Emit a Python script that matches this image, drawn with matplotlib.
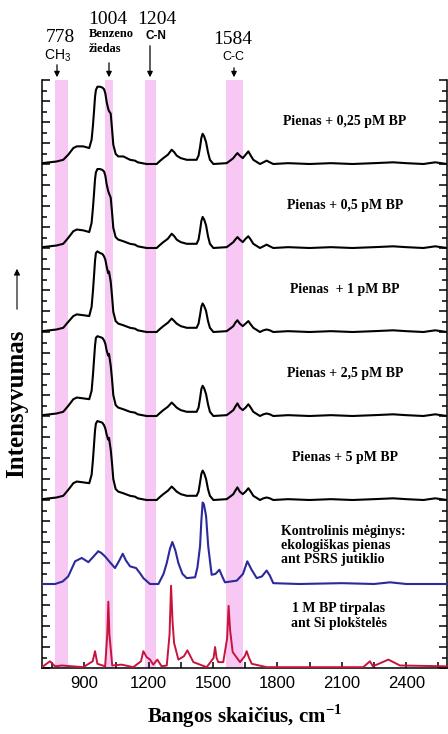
import numpy as np
import matplotlib.pyplot as plt
from matplotlib.ticker import MultipleLocator

# wavenumbers (cm-1) shared by the five milk + BP spectra
wn_milk = [704, 740, 772, 803, 826, 850, 866, 896, 924, 935, 941, 946, 951, 955, 962, 974, 985,
           993, 999, 1005, 1012, 1016, 1024, 1030, 1036, 1047, 1059, 1083, 1114, 1137, 1150,
           1191, 1238, 1255, 1269, 1290, 1308, 1320, 1331, 1350, 1378, 1424, 1433, 1440, 1446,
           1452, 1459, 1468, 1477, 1486, 1502, 1564, 1580, 1595, 1604, 1614, 1625, 1639, 1652,
           1665, 1676, 1688, 1719, 1735, 1750, 1765, 1781, 1850, 1950, 2050, 2150, 2250, 2339,
           2400, 2480, 2535, 2590]

milk_025 = [0.01, 0.02, 0.03, 0.05, 0.11, 0.19, 0.21, 0.21, 0.19, 0.29, 0.45, 0.62, 0.80, 0.88,
            0.92, 0.92, 0.91, 0.89, 0.84, 0.74, 0.66, 0.63, 0.60, 0.42, 0.23, 0.12, 0.09, 0.09,
            0.05, 0.04, 0.02, 0.00, 0.00, 0.04, 0.07, 0.11, 0.17, 0.14, 0.10, 0.07, 0.05, 0.05,
            0.10, 0.20, 0.31, 0.36, 0.33, 0.26, 0.14, 0.05, 0.00, 0.01, 0.04, 0.07, 0.10, 0.13,
            0.10, 0.07, 0.11, 0.15, 0.10, 0.05, 0.00, 0.02, 0.04, 0.02, 0.00, 0.01, 0.00, 0.01,
            0.00, 0.01, 0.02, 0.01, 0.00, 0.02, 0.00]
milk_05 = [0.01, 0.02, 0.03, 0.05, 0.12, 0.20, 0.22, 0.21, 0.19, 0.30, 0.47, 0.64, 0.82, 0.90,
           0.94, 0.94, 0.93, 0.91, 0.86, 0.76, 0.68, 0.65, 0.60, 0.43, 0.24, 0.13, 0.10, 0.08,
           0.05, 0.04, 0.02, 0.00, 0.00, 0.04, 0.07, 0.11, 0.17, 0.14, 0.10, 0.07, 0.05, 0.05,
           0.10, 0.21, 0.32, 0.37, 0.34, 0.27, 0.14, 0.05, 0.00, 0.01, 0.04, 0.07, 0.10, 0.13,
           0.10, 0.07, 0.11, 0.14, 0.10, 0.05, 0.00, 0.02, 0.04, 0.02, 0.00, 0.01, 0.00, 0.01,
           0.00, 0.01, 0.02, 0.01, 0.00, 0.02, 0.00]
milk_1 = [0.01, 0.02, 0.03, 0.05, 0.12, 0.19, 0.21, 0.20, 0.19, 0.30, 0.48, 0.66, 0.85, 0.94,
          0.96, 0.94, 0.93, 0.90, 0.86, 0.78, 0.70, 0.72, 0.60, 0.43, 0.24, 0.13, 0.10, 0.08,
          0.05, 0.04, 0.02, 0.00, 0.00, 0.04, 0.07, 0.11, 0.16, 0.13, 0.10, 0.07, 0.05, 0.05,
          0.10, 0.20, 0.30, 0.34, 0.31, 0.25, 0.13, 0.05, 0.00, 0.01, 0.04, 0.07, 0.11, 0.14,
          0.10, 0.07, 0.10, 0.13, 0.09, 0.05, 0.00, 0.02, 0.03, 0.02, 0.00, 0.01, 0.00, 0.01,
          0.00, 0.01, 0.02, 0.01, 0.00, 0.02, 0.00]
milk_25 = [0.01, 0.02, 0.03, 0.05, 0.12, 0.20, 0.22, 0.21, 0.20, 0.30, 0.48, 0.66, 0.84, 0.93,
           0.95, 0.94, 0.93, 0.90, 0.86, 0.78, 0.72, 0.74, 0.60, 0.44, 0.25, 0.13, 0.10, 0.08,
           0.05, 0.04, 0.02, 0.00, 0.00, 0.04, 0.07, 0.11, 0.16, 0.13, 0.10, 0.07, 0.05, 0.05,
           0.10, 0.21, 0.32, 0.36, 0.33, 0.26, 0.14, 0.05, 0.00, 0.01, 0.04, 0.07, 0.11, 0.15,
           0.10, 0.07, 0.10, 0.14, 0.10, 0.05, 0.00, 0.02, 0.03, 0.02, 0.00, 0.01, 0.00, 0.01,
           0.00, 0.01, 0.02, 0.01, 0.00, 0.02, 0.00]
milk_5 = [0.01, 0.02, 0.03, 0.05, 0.12, 0.20, 0.22, 0.21, 0.20, 0.30, 0.47, 0.65, 0.83, 0.91,
          0.94, 0.93, 0.92, 0.89, 0.85, 0.78, 0.72, 0.74, 0.60, 0.44, 0.25, 0.13, 0.10, 0.08,
          0.05, 0.04, 0.02, 0.00, 0.00, 0.04, 0.07, 0.11, 0.16, 0.13, 0.10, 0.07, 0.05, 0.05,
          0.10, 0.21, 0.31, 0.35, 0.32, 0.25, 0.13, 0.05, 0.00, 0.01, 0.04, 0.07, 0.11, 0.15,
          0.10, 0.07, 0.10, 0.14, 0.10, 0.05, 0.00, 0.02, 0.03, 0.02, 0.00, 0.01, 0.00, 0.01,
          0.00, 0.01, 0.02, 0.01, 0.00, 0.02, 0.00]

# control: organic milk on the SERS sensor (blue)
wn_control = [704, 765, 800, 826, 842, 858, 889, 920, 945, 966, 980, 997, 1020, 1044, 1062,
              1080, 1095, 1114, 1142, 1160, 1176, 1207, 1246, 1270, 1285, 1300, 1311, 1325,
              1339, 1358, 1378, 1417, 1428, 1440, 1446, 1452, 1458, 1468, 1478, 1494, 1512,
              1530, 1545, 1556, 1611, 1640, 1660, 1680, 1704, 1728, 1750, 1765, 1781, 1900,
              2100, 2250, 2325, 2400, 2590]
control = [0.00, 0.00, 0.03, 0.09, 0.18, 0.27, 0.31, 0.26, 0.33, 0.39, 0.37, 0.33, 0.26, 0.19,
           0.27, 0.36, 0.28, 0.21, 0.19, 0.13, 0.07, 0.00, 0.00, 0.12, 0.25, 0.42, 0.50, 0.40,
           0.25, 0.12, 0.07, 0.08, 0.20, 0.45, 0.75, 0.97, 0.95, 0.81, 0.45, 0.11, 0.12, 0.17,
           0.08, 0.02, 0.04, 0.12, 0.27, 0.17, 0.07, 0.09, 0.16, 0.10, 0.01, 0.00, 0.01, 0.00,
           0.02, 0.00, 0.00]

# 1 M BP solution on Si wafer (red)
wn_bp = [704, 741, 765, 796, 896, 940, 951, 962, 998, 1008, 1013, 1018, 1031, 1075, 1129, 1165,
         1176, 1191, 1207, 1222, 1241, 1261, 1285, 1298, 1305, 1312, 1319, 1339, 1365, 1381,
         1409, 1471, 1503, 1510, 1517, 1525, 1548, 1566, 1573, 1580, 1592, 1626, 1648, 1657,
         1668, 1681, 1750, 2000, 2200, 2231, 2245, 2317, 2371, 2590]
bp = [0.01, 0.08, 0.02, 0.03, 0.01, 0.08, 0.20, 0.05, 0.02, 0.40, 0.79, 0.40, 0.03, 0.04, 0.01,
      0.08, 0.20, 0.13, 0.10, 0.04, 0.10, 0.02, 0.03, 0.40, 0.98, 0.55, 0.30, 0.10, 0.14, 0.21,
      0.07, 0.01, 0.12, 0.25, 0.12, 0.07, 0.07, 0.35, 0.74, 0.45, 0.19, 0.07, 0.14, 0.20, 0.12,
      0.05, 0.01, 0.01, 0.01, 0.08, 0.02, 0.10, 0.03, 0.02]

milk_labels = ["Pienas + 0,25 pM BP", "Pienas + 0,5 pM BP", "Pienas  + 1 pM BP",
               "Pienas + 2,5 pM BP", "Pienas + 5 pM BP"]
control_label = "Kontrolinis mėginys:\nekologiškas pienas\nant PSRS jutiklio"
bp_label = "1 M BP tirpalas\nant Si plokštelės"

bands = [(765, 825), (998, 1035), (1184, 1235), (1561, 1640)]
band_marks = ["778", "1004", "1204", "1584"]

plt.rcParams['mathtext.fontset'] = 'custom'
plt.rcParams['mathtext.rm'] = 'Liberation Sans'
plt.rcParams['mathtext.bf'] = 'Liberation Serif:bold'

W, H = 448, 734
fig = plt.figure(figsize=(W / 100, H / 100), dpi=100)
ax = fig.add_axes([42 / W, (H - 668) / H, 405 / W, 588 / H])

for lo, hi in bands:
    ax.axvspan(lo, hi, color='#f8c8f4', lw=0, zorder=0)

milk = [milk_025, milk_05, milk_1, milk_25, milk_5]
for i, ys in enumerate(milk):
    off = 6 - i
    ax.plot(wn_milk, np.array(ys) + off, color='black', lw=1.5, zorder=3)
ax.plot(wn_control, np.array(control) + 1, color='#2a2a9c', lw=1.5, zorder=3)
ax.plot(wn_bp, bp, color='#c8143c', lw=1.4, zorder=3)

serif = 'Liberation Serif'
for i, lab in enumerate(milk_labels):
    ax.text(2115, 6 - i + 0.5, lab, ha='center', va='center', family=serif,
            fontweight='bold', fontsize=10)
ax.text(1815, 1.70, control_label, ha='left', va='top', family=serif, fontweight='bold',
        fontsize=10, linespacing=1.1)
ax.text(2085, 0.62, bp_label, ha='center', va='center', family=serif, fontweight='bold',
        fontsize=10, linespacing=1.15)

ax.set_xlim(704, 2590)
ax.set_ylim(0, 7)
ax.xaxis.set_major_locator(MultipleLocator(300))
ax.xaxis.set_minor_locator(MultipleLocator(150))
ax.yaxis.set_major_locator(MultipleLocator(0.25))
ax.yaxis.set_minor_locator(MultipleLocator(0.125))
ax.tick_params(axis='x', which='both', direction='in', length=4.5, width=1.1,
               labelsize=12, pad=6)
ax.tick_params(axis='y', which='both', direction='in', left=True, right=True,
               labelleft=False, width=1.1)
ax.tick_params(axis='y', which='major', length=5.5)
ax.tick_params(axis='y', which='minor', length=3.5)
for lab in ax.get_xticklabels():
    lab.set_family('Liberation Sans')
ax.spines['top'].set_visible(False)
for s in ['left', 'right', 'bottom']:
    ax.spines[s].set_linewidth(1.1)

ax.set_xlabel(r"Bangos skaičius, cm$^{\mathbf{-1}}$", family=serif, fontweight='bold',
              fontsize=15, labelpad=8)


def fx(x):
    return x / W


def fy(y):
    return 1 - y / H


# band annotations above the plot (pixel positions from the picture)
arrow_kw = dict(arrowstyle='-|>', color='black', lw=0.9, mutation_scale=8)
marks = [(57, 62, 60, 37), (109, 60, 108, 20), (150, 43, 157, 20), (234, 65, 233, 39)]
for (ax_x, y0, tx, ty), lab in zip(marks, band_marks):
    ax.annotate("", xy=(fx(ax_x), fy(80)), xytext=(fx(ax_x), fy(y0)),
                xycoords='figure fraction', arrowprops=arrow_kw)
    fig.text(fx(tx), fy(ty), lab, ha='center', va='center', family=serif, fontsize=14)
fig.text(fx(58), fy(56), r'$\mathrm{CH}_3$', ha='center', va='center', fontsize=10)
fig.text(fx(89), fy(34), "Benzeno", ha='left', va='center', family=serif,
         fontweight='bold', fontsize=9)
fig.text(fx(89), fy(49), "žiedas", ha='left', va='center', family=serif,
         fontweight='bold', fontsize=9)
fig.text(fx(156), fy(36), "C-N", ha='center', va='center', family='Liberation Sans',
         fontweight='bold', fontsize=8.5)
fig.text(fx(233), fy(57), "C-C", ha='center', va='center', family='Liberation Sans',
         fontsize=9)

# y axis label with arrow
fig.text(fx(17), fy(404), "Intensyvumas", rotation=90, ha='center', va='center',
         family=serif, fontweight='bold', fontsize=18)
ax.annotate("", xy=(fx(17), fy(266)), xytext=(fx(17), fy(312)),
            xycoords='figure fraction', arrowprops=dict(arrowstyle='-|>', color='black',
                                                        lw=0.8, mutation_scale=9))

fig.savefig("out.png", dpi=100)
